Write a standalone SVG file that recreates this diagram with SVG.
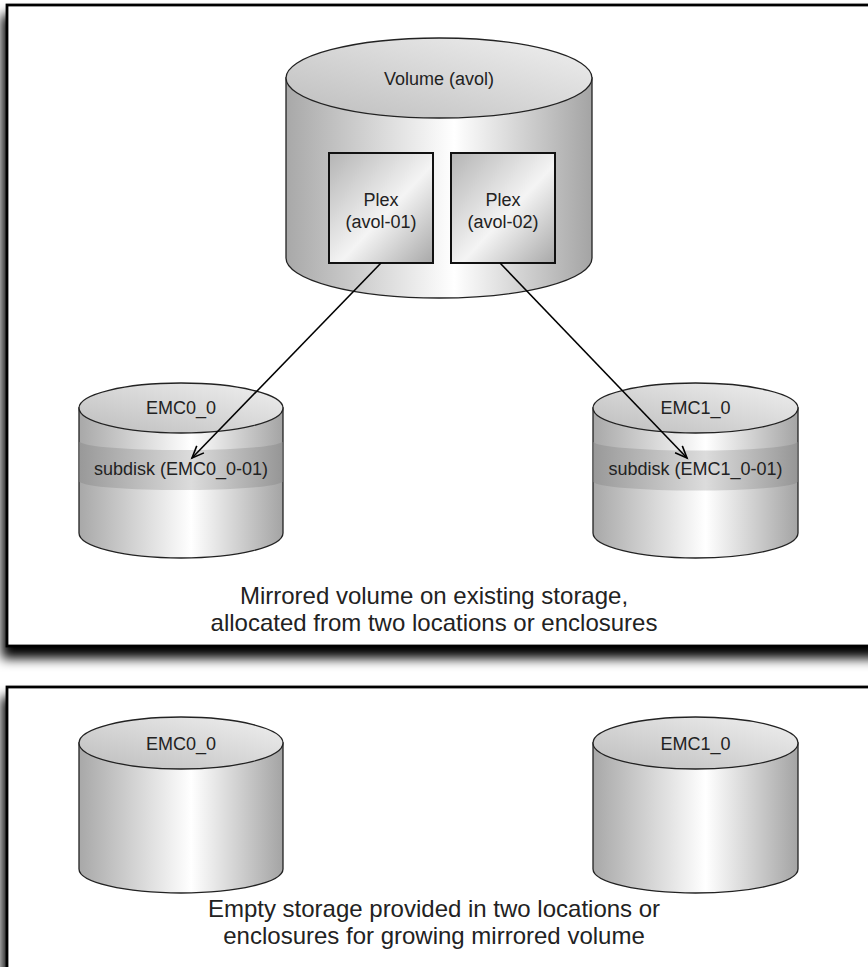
<svg xmlns="http://www.w3.org/2000/svg" width="868" height="967" viewBox="0 0 868 967">
<style>
.frame{fill:#fff;stroke:#000;stroke-width:2.8}
.body{fill:url(#gBody);stroke:#222;stroke-width:1.3}
.top{fill:url(#gTop);stroke:#222;stroke-width:1.3}
.band{fill:url(#gBand);stroke:none}
.plex{fill:url(#gPlex);stroke:#111;stroke-width:2}
.lbl{font-family:"Liberation Sans",Arial,sans-serif;font-size:18px;fill:#222;text-anchor:middle}
.cap{font-family:"Liberation Sans",Arial,sans-serif;font-size:24px;fill:#222;text-anchor:middle}
.conn{stroke:#000;stroke-width:1.6;fill:none;marker-end:url(#arrow)}
</style>
<defs>
<linearGradient id="gBody" x1="0" y1="0" x2="1" y2="0">
<stop offset="0" stop-color="#a8a8a8"/>
<stop offset="0.55" stop-color="#ffffff"/>
<stop offset="1" stop-color="#a4a4a4"/>
</linearGradient>
<linearGradient id="gTop" x1="0" y1="1" x2="1" y2="0">
<stop offset="0" stop-color="#bdbdbd"/>
<stop offset="1" stop-color="#f0f0f0"/>
</linearGradient>
<linearGradient id="gBand" x1="0" y1="0" x2="1" y2="0">
<stop offset="0" stop-color="#999"/>
<stop offset="0.55" stop-color="#dcdcdc"/>
<stop offset="1" stop-color="#969696"/>
</linearGradient>
<linearGradient id="gPlex" x1="0" y1="0" x2="1" y2="1">
<stop offset="0" stop-color="#b4b4b4"/>
<stop offset="0.55" stop-color="#f4f4f4"/>
<stop offset="1" stop-color="#a8a8a8"/>
</linearGradient>
<filter id="shadow" x="-5%" y="-5%" width="115%" height="115%">
<feGaussianBlur in="SourceAlpha" stdDeviation="6"/>
<feOffset dx="-4" dy="11" result="b"/>
<feComponentTransfer><feFuncA type="linear" slope="1"/></feComponentTransfer>
<feMerge><feMergeNode/><feMergeNode in="SourceGraphic"/></feMerge>
</filter>
<marker id="arrow" markerUnits="userSpaceOnUse" markerWidth="16" markerHeight="14" refX="13" refY="6" orient="auto">
<path d="M1,1 L13,6 L1,11" fill="none" stroke="#000" stroke-width="1.6"/>
</marker>
</defs>

<g id="frame-top"><rect class="frame" x="7" y="5" width="900" height="641" filter="url(#shadow)"/></g>
<g id="frame-bottom"><rect class="frame" x="7" y="687" width="900" height="400" filter="url(#shadow)"/></g>

<g id="volume-avol">
<path class="body" d="M286,78 L286,258 A153,40 0 0,0 592,258 L592,78 Z"/>
<ellipse class="top" cx="439" cy="78" rx="153" ry="40"/>
<text class="lbl" x="439" y="85">Volume (avol)</text>
</g>
<g id="plex-avol-01">
<rect class="plex" x="329" y="153" width="104" height="110"/>
<text class="lbl" x="381" y="206">Plex</text>
<text class="lbl" x="381" y="228">(avol-01)</text>
</g>
<g id="plex-avol-02">
<rect class="plex" x="451" y="153" width="104" height="110"/>
<text class="lbl" x="503" y="206">Plex</text>
<text class="lbl" x="503" y="228">(avol-02)</text>
</g>

<g id="emc0-top">
<path class="body" d="M79,408 L79,533 A102,25 0 0,0 283,533 L283,408 Z"/>
<path class="band" d="M79.6,442 A102,9 0 0,0 282.4,442 L282.4,482 A102,9 0 0,1 79.6,482 Z"/>
<ellipse class="top" cx="181" cy="408" rx="102" ry="25"/>
<text class="lbl" x="181" y="414">EMC0_0</text>
<text class="lbl" x="181" y="475">subdisk (EMC0_0-01)</text>
</g>
<g id="emc1-top">
<path class="body" d="M593,408 L593,533 A102.5,25 0 0,0 798,533 L798,408 Z"/>
<path class="band" d="M593.6,442 A102,9 0 0,0 797.4,442 L797.4,482 A102,9 0 0,1 593.6,482 Z"/>
<ellipse class="top" cx="695.5" cy="408" rx="102.5" ry="25"/>
<text class="lbl" x="695.5" y="414">EMC1_0</text>
<text class="lbl" x="695.5" y="475">subdisk (EMC1_0-01)</text>
</g>

<g id="connectors">
<line class="conn" x1="381" y1="263" x2="192" y2="458"/>
<line class="conn" x1="500" y1="263" x2="687" y2="458"/>
</g>

<g id="caption-top">
<text class="cap" x="434" y="604">Mirrored volume on existing storage,</text>
<text class="cap" x="434" y="631">allocated from two locations or enclosures</text>
</g>

<g id="emc0-bottom">
<path class="body" d="M79,743 L79,869 A102,24 0 0,0 283,869 L283,743 Z"/>
<ellipse class="top" cx="181" cy="743" rx="102" ry="26"/>
<text class="lbl" x="181" y="750">EMC0_0</text>
</g>
<g id="emc1-bottom">
<path class="body" d="M593,743 L593,869 A102.5,24 0 0,0 798,869 L798,743 Z"/>
<ellipse class="top" cx="695.5" cy="743" rx="102.5" ry="26"/>
<text class="lbl" x="695.5" y="750">EMC1_0</text>
</g>

<g id="caption-bottom">
<text class="cap" x="434" y="917">Empty storage provided in two locations or</text>
<text class="cap" x="434" y="944">enclosures for growing mirrored volume</text>
</g>
</svg>
